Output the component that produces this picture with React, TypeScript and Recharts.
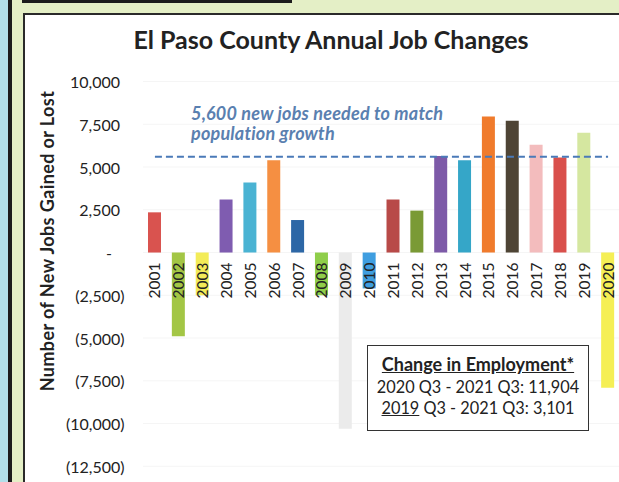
import React from 'react';
import { BarChart, Bar, Cell, XAxis, YAxis, CartesianGrid, ReferenceLine, LabelList } from 'recharts';

const years = ['2001', '2002', '2003', '2004', '2005', '2006', '2007', '2008', '2009', '2010',
  '2011', '2012', '2013', '2014', '2015', '2016', '2017', '2018', '2019', '2020'];

const jobChanges = [2350, -4900, -2500, 3100, 4100, 5400, 1900, -2500, -10300, -2100,
  3100, 2450, 5650, 5400, 7950, 7700, 6300, 5550, 7000, -7900];

const barColors = ['#d9534f', '#a3c645', '#f3ec58', '#7f5cb0', '#4ab3d3', '#f58f42', '#2d67a6', '#8fce4a', '#ebebeb', '#3f9ee0',
  '#b84a48', '#7a9a35', '#7d5aa8', '#35a6c8', '#f07b2c', '#4e4435', '#f3bcbd', '#d9504c', '#d5e7a0', '#f5ef55'];

const yTicks = [10000, 7500, 5000, 2500, 0, -2500, -5000, -7500, -10000, -12500];

const TARGET = 5600;

const data = years.map((year, i) => ({ year, value: jobChanges[i] }));

const FONT = 'Lato, "Noto Sans", sans-serif';
const TEXT = '#222';

const fmt = (v: number) => v.toLocaleString('en-US');

const YTick = (props: any) => {
  const { y, payload } = props;
  const v = payload.value as number;
  let label = fmt(v);
  let x = 120;
  let anchor: 'end' | 'middle' = 'end';
  if (v === 0) {
    label = '-';
    x = 109;
    anchor = 'middle';
  } else if (v < 0) {
    label = `(${fmt(-v)})`;
    x = 124.5;
  }
  return (
    <text x={x} y={y} textAnchor={anchor} dominantBaseline="central" fontSize={16} fill={TEXT} fontFamily={FONT}>
      {label}
    </text>
  );
};

const YearLabel = (props: any) => {
  const vb = props.viewBox ?? props;
  const { x, y, width, height } = vb;
  const v = jobChanges[years.indexOf(String(props.value))];
  const base = v >= 0 ? Math.max(y, y + height) : Math.min(y, y + height);
  const cx = x + width / 2;
  const ty = base + 10;
  return (
    <text
      x={cx}
      y={ty}
      transform={`rotate(-90 ${cx} ${ty})`}
      textAnchor="end"
      dominantBaseline="central"
      fontSize={15.5}
      fill={TEXT}
      fontFamily={FONT}
    >
      {props.value}
    </text>
  );
};

export default function App() {
  return (
    <div style={{ position: 'absolute', left: 0, top: 0, width: 619, height: 482, overflow: 'hidden', background: '#e4efc6', fontFamily: FONT }}>
      <div style={{ position: 'absolute', left: 0, top: 0, width: 8, height: 482, background: '#b2dfe9' }} />
      <div style={{ position: 'absolute', left: 8, top: 0, width: 4, height: 482, background: '#1c1c1c' }} />
      <div style={{ position: 'absolute', left: 22, top: 0, width: 270, height: 3, background: '#1c1c1c' }} />
      <div style={{ position: 'absolute', left: 23, top: 13, width: 700, height: 600, background: '#fff', border: '2px solid #2a2a2a' }} />

      <div style={{ position: 'absolute', left: 0, top: 0 }}>
        <BarChart width={640} height={482} data={data} margin={{ top: 81.5, right: 20, bottom: 15.7, left: 0 }} barSize={13}>
          <CartesianGrid vertical={false} stroke="#f5f5f5" />
          <XAxis dataKey="year" hide />
          <YAxis
            width={143}
            domain={[-12500, 10000]}
            ticks={yTicks}
            interval={0}
            axisLine={false}
            tickLine={false}
            tick={<YTick />}
          />
          <Bar dataKey="value" isAnimationActive={false}>
            {data.map((d, i) => (
              <Cell key={d.year} fill={barColors[i]} />
            ))}
            <LabelList dataKey="year" content={<YearLabel />} />
          </Bar>
          <ReferenceLine
            segment={[{ x: years[0], y: TARGET }, { x: years[years.length - 1], y: TARGET }]}
            stroke="#4a7ab8"
            strokeWidth={2}
            strokeDasharray="7 4"
          />
        </BarChart>
      </div>

      <div style={{ position: 'absolute', left: 0, top: 24, width: 662, textAlign: 'center', fontSize: 25, fontWeight: 700, color: TEXT, lineHeight: '30px' }}>
        El Paso County Annual Job Changes
      </div>

      <div style={{ position: 'absolute', left: 47, top: 241, width: 0, height: 0 }}>
        <div style={{ position: 'absolute', transform: 'translate(-50%, -50%) rotate(-90deg)', whiteSpace: 'nowrap', fontSize: 18, letterSpacing: 0.4, fontWeight: 700, color: TEXT }}>
          Number of New Jobs Gained or Lost
        </div>
      </div>

      <div style={{ position: 'absolute', left: 191, top: 103, fontSize: 18, letterSpacing: 0.2, fontWeight: 700, fontStyle: 'italic', color: '#5a80b0', lineHeight: '20px' }}>
        5,600 new jobs needed to match<br />population growth
      </div>

      <div
        style={{
          position: 'absolute', left: 367, top: 345, width: 222, height: 86, border: '1.5px solid #333', background: '#fff',
          textAlign: 'center', fontSize: 16.3, color: TEXT, lineHeight: '21.5px', paddingTop: 8, boxSizing: 'border-box',
        }}
      >
        <div style={{ fontWeight: 700, fontSize: 18, textDecoration: 'underline' }}>Change in Employment*</div>
        <div>2020 Q3 - 2021 Q3: 11,904</div>
        <div><span style={{ textDecoration: 'underline' }}>2019</span> Q3 - 2021 Q3: 3,101</div>
      </div>
    </div>
  );
}
